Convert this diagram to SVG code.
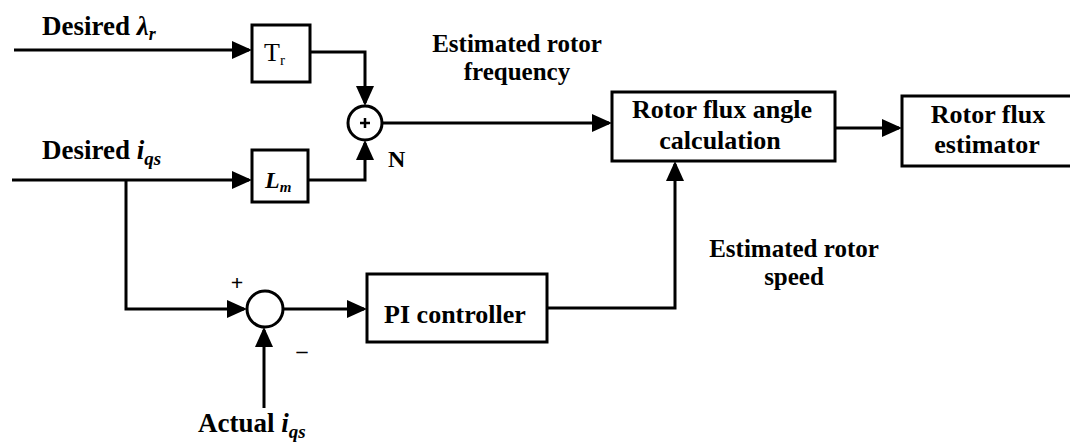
<svg xmlns="http://www.w3.org/2000/svg" width="1070" height="446" viewBox="0 0 1070 446">
<defs>
<marker id="ah" viewBox="0 0 20 18" refX="17" refY="9" markerWidth="20" markerHeight="18" markerUnits="userSpaceOnUse" orient="auto">
<path d="M0,0 L20,9 L0,18 z" fill="#000"/>
</marker>
<style>
.ln{fill:none;stroke:#000;stroke-width:3;marker-end:url(#ah)}
.pl{fill:none;stroke:#000;stroke-width:3}
.bx{fill:#fff;stroke:#000;stroke-width:3}
.t{font-weight:bold;font-size:26px;fill:#000}
.c{text-anchor:middle}
.lb{font-weight:bold;font-size:27px;fill:#000}
.it{font-style:italic}
</style>
</defs>
<rect width="1070" height="446" fill="#fff"/>
<g id="connectors">
<path class="ln" d="M14,50 H249"/>
<path class="ln" d="M310,52 H365 V103"/>
<path class="ln" d="M12,180 H249"/>
<path class="ln" d="M308,180 H365 V143"/>
<path class="ln" d="M382,123 H609"/>
<path class="ln" d="M835,128 H899"/>
<path class="ln" d="M126,180 V309 H244"/>
<path class="ln" d="M283,309 H364"/>
<path class="ln" d="M264,408 V330"/>
<path class="ln" d="M547,308 H675 V164"/>
</g>
<g font-family="'Liberation Serif', 'Times New Roman', Times, serif">
<g id="label-desired-lambda">
<text class="lb" x="42" y="35">Desired <tspan class="it">λ</tspan><tspan class="it" dy="5" style="font-size:18px">r</tspan></text>
</g>
<g id="label-desired-iqs">
<text class="lb" x="42" y="159">Desired <tspan class="it">i</tspan><tspan class="it" dy="6" style="font-size:19px">qs</tspan></text>
</g>
<g id="label-actual-iqs">
<text class="lb" x="198" y="432">Actual <tspan class="it">i</tspan><tspan class="it" dy="6" style="font-size:19px">qs</tspan></text>
</g>
<g id="node-Tr">
<rect class="bx" x="252" y="25" width="58" height="57"/>
<text x="264" y="61" font-size="26" fill="#000">T<tspan dy="4" font-size="15">r</tspan></text>
</g>
<g id="node-Lm">
<rect class="bx" x="252" y="150" width="56" height="52"/>
<text x="265" y="188" font-size="24" font-weight="bold" font-style="italic" fill="#000">L<tspan dy="4" font-size="15">m</tspan></text>
</g>
<g id="node-sum1">
<circle cx="365" cy="123" r="17" fill="#fff" stroke="#000" stroke-width="3"/>
<path class="pl" d="M360,123 H370 M365,118 V128" style="stroke-width:2.5"/>
<text class="t" x="388" y="167" style="font-size:24px">N</text>
</g>
<g id="node-sum2">
<circle cx="265" cy="309" r="18" fill="#fff" stroke="#000" stroke-width="3"/>
<text class="t" x="237" y="290" style="font-size:22px" text-anchor="middle">+</text>
<text class="t" x="302" y="358" style="font-size:22px" text-anchor="middle">–</text>
</g>
<g id="node-PI">
<rect class="bx" x="367" y="274" width="180" height="68"/>
<text class="t c" x="455" y="323">PI controller</text>
</g>
<g id="node-angle">
<rect class="bx" x="612" y="92" width="223" height="69"/>
<text class="t c" x="722" y="118">Rotor flux angle</text>
<text class="t c" x="720" y="149">calculation</text>
</g>
<g id="node-estimator">
<rect class="bx" x="902" y="96" width="174" height="70"/>
<text class="t c" x="988" y="123">Rotor flux</text>
<text class="t c" x="987" y="153">estimator</text>
</g>
<g id="label-freq">
<text class="t c" x="517" y="52" style="font-size:25px">Estimated rotor</text>
<text class="t c" x="517" y="80" style="font-size:25px">frequency</text>
</g>
<g id="label-speed">
<text class="t c" x="794" y="257" style="font-size:25px">Estimated rotor</text>
<text class="t c" x="794" y="285" style="font-size:25px">speed</text>
</g>
</g>
</svg>
